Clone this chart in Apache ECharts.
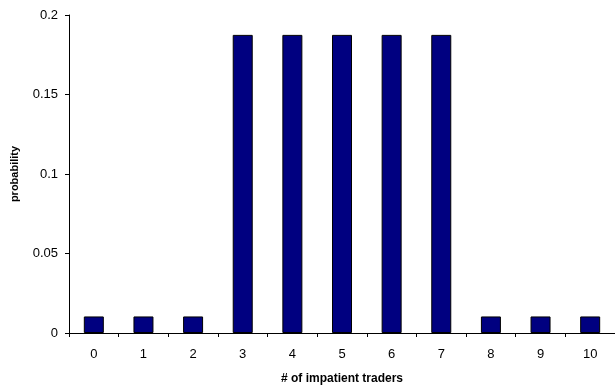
<!DOCTYPE html>
<html><head><meta charset="utf-8">
<script src="https://cdn.jsdelivr.net/npm/echarts@6/dist/echarts.min.js"></script>
<style>html,body{margin:0;padding:0;background:#fff}#c{width:615px;height:385px}</style>
</head><body><div id="c"></div>
<script>
const categories = ['0','1','2','3','4','5','6','7','8','9','10'];
const probability = [0.0104,0.0104,0.0104,0.1875,0.1875,0.1875,0.1875,0.1875,0.0104,0.0104,0.0104];
const yTicks = [0, 0.05, 0.1, 0.15, 0.2];

const chart = echarts.init(document.getElementById('c'));
chart.setOption({
  animation: false,
  grid: {left: 69, right: 0, top: 15, bottom: 52, containLabel: false, outerBoundsMode: 'none'},
  xAxis: {
    type: 'category', data: categories, boundaryGap: true,
    name: '# of impatient traders', nameLocation: 'middle', nameGap: 40,
    nameTextStyle: {fontFamily: 'Liberation Sans', fontWeight: 'bold', fontSize: 12, color: '#000'},
    axisLine: {lineStyle: {color: '#000', width: 1}},
    axisTick: {show: true, length: 4, lineStyle: {color: '#000'}},
    axisLabel: {fontFamily: 'Liberation Sans', fontSize: 13, color: '#000', margin: 15}
  },
  yAxis: {
    type: 'value', min: 0, max: 0.2, interval: 0.05,
    name: 'probability', nameLocation: 'middle', nameGap: 49, nameRotate: 90,
    nameTextStyle: {fontFamily: 'Liberation Sans', fontWeight: 'bold', fontSize: 11, color: '#000'},
    axisLine: {show: true, lineStyle: {color: '#000', width: 1}},
    axisTick: {show: true, length: 4, lineStyle: {color: '#000'}},
    splitLine: {show: false},
    axisLabel: {fontFamily: 'Liberation Sans', fontSize: 13, color: '#000', margin: 11,
      formatter: v => { const t = yTicks.find(x => Math.abs(x - v) < 1e-9); return String(t !== undefined ? t : v); }}
  },
  series: [{
    type: 'bar', data: probability, barWidth: 20,
    itemStyle: {color: '#000080', borderColor: '#000', borderWidth: 1}
  }]
});
</script></body></html>
